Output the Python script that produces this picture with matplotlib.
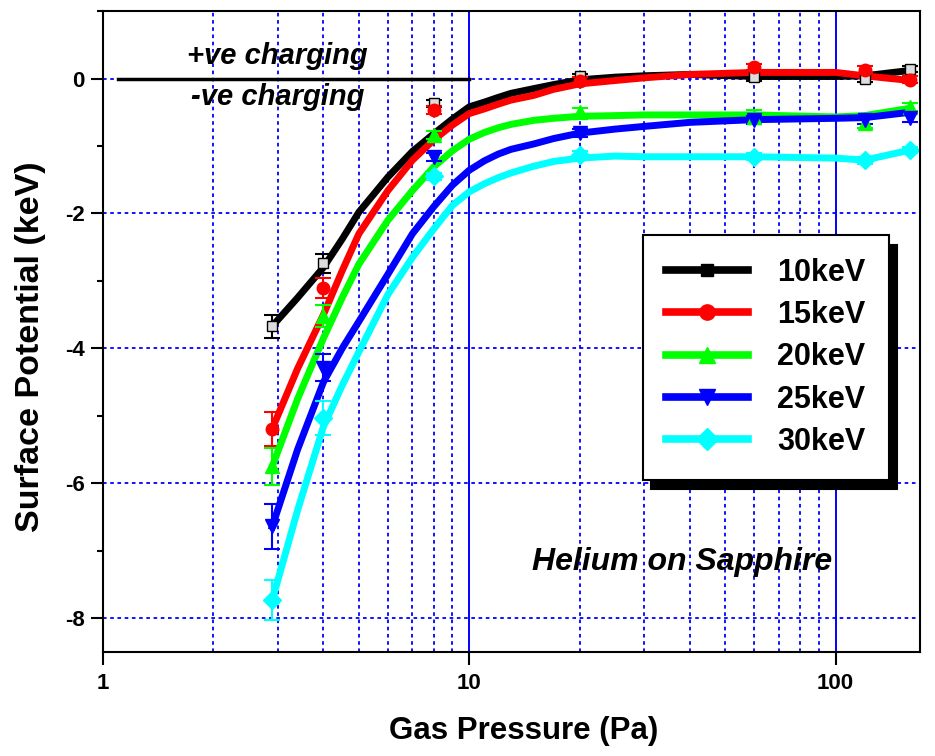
import numpy as np
import matplotlib.pyplot as plt
from matplotlib.lines import Line2D

plt.rcParams['font.family'] = ['Liberation Sans', 'DejaVu Sans']
plt.rcParams['font.weight'] = 'bold'

# measured surface potential (keV) vs gas pressure (Pa)
pressure = [2.9, 4, 8, 20, 60, 120, 160]
v10 = [-3.67, -2.74, -0.37, 0.03, 0.02, 0.0, 0.14]
v15 = [-5.19, -3.10, -0.47, -0.03, 0.17, 0.13, -0.02]
v20 = [-5.75, -3.52, -0.84, -0.49, -0.57, -0.66, -0.42]
v25 = [-6.64, -4.29, -1.16, -0.81, -0.61, -0.61, -0.59]
v30 = [-7.73, -5.03, -1.45, -1.13, -1.16, -1.21, -1.06]
e10 = [0.17, 0.14, 0.05, 0.04, 0.05, 0.05, 0.05]
e15 = [0.25, 0.15, 0.06, 0.05, 0.05, 0.05, 0.05]
e20 = [0.28, 0.17, 0.06, 0.05, 0.10, 0.08, 0.06]
e25 = [0.34, 0.20, 0.06, 0.06, 0.06, 0.06, 0.06]
e30 = [0.30, 0.25, 0.05, 0.05, 0.05, 0.05, 0.05]

# fitted curves
fit_p = [2.9, 3.4, 4, 4.5, 5, 6, 7, 8, 9, 10, 11, 12, 13, 15, 17, 20, 25, 30, 40, 60, 100, 120, 160]
f10 = [-3.67, -3.25, -2.80, -2.38, -1.98, -1.46, -1.08, -0.82, -0.60, -0.42, -0.35, -0.28, -0.22,
       -0.15, -0.09, -0.02, 0.02, 0.04, 0.06, 0.03, 0.03, 0.04, 0.12]
f15 = [-5.19, -4.30, -3.50, -2.85, -2.30, -1.66, -1.21, -0.91, -0.69, -0.52, -0.45, -0.38, -0.32,
       -0.25, -0.16, -0.08, -0.03, 0.01, 0.06, 0.09, 0.09, 0.04, -0.03]
f20 = [-5.75, -4.75, -3.85, -3.25, -2.75, -2.10, -1.66, -1.31, -1.07, -0.90, -0.80, -0.73, -0.68,
       -0.62, -0.59, -0.56, -0.55, -0.54, -0.54, -0.54, -0.57, -0.55, -0.44]
f25 = [-6.64, -5.50, -4.50, -4.00, -3.60, -2.90, -2.30, -1.90, -1.58, -1.36, -1.22, -1.12, -1.05,
       -0.97, -0.89, -0.81, -0.75, -0.71, -0.65, -0.61, -0.59, -0.58, -0.50]
f30 = [-7.73, -6.40, -5.16, -4.55, -4.05, -3.20, -2.65, -2.23, -1.88, -1.68, -1.56, -1.47, -1.40,
       -1.30, -1.23, -1.18, -1.15, -1.16, -1.16, -1.16, -1.18, -1.21, -1.06]

labels = ['10keV', '15keV', '20keV', '25keV', '30keV']
colors = ['black', 'red', '#00ff00', 'blue', 'cyan']
markers = ['s', 'o', '^', 'v', 'D']
msizes = [7, 9, 10, 10, 9]

xticks = [1, 10, 100]
xticklabels = ['1', '10', '100']
yticks = [0, -2, -4, -6, -8]
yticklabels = ['0', '-2', '-4', '-6', '-8']

fig = plt.figure(figsize=(9.35, 7.56), dpi=100)
ax = fig.add_axes([0.110, 0.1376, 0.874, 0.8478])
ax.set_xscale('log')
ax.set_xlim(1, 170)
ax.set_ylim(-8.5, 1.0)

# grid: solid at decades, dotted elsewhere
ax.set_axisbelow(True)
ax.xaxis.grid(True, which='major', color='blue', ls='-', lw=1.4)
ax.xaxis.grid(True, which='minor', color='blue', ls=(0, (2, 2)), lw=1.3)
ax.yaxis.grid(True, which='major', color='blue', ls=(0, (2, 2)), lw=1.3)

fits = [f10, f15, f20, f25, f30]
vals = [v10, v15, v20, v25, v30]
errs = [e10, e15, e20, e25, e30]
for f, v, e, c, m, ms in zip(fits, vals, errs, colors, markers, msizes):
    ax.plot(fit_p, f, color=c, lw=5, solid_joinstyle='round')
    mfc = '#dddddd' if c == 'black' else c
    ax.errorbar(pressure, v, yerr=e, fmt=m, color=c, ms=ms, mfc=mfc, mec=c,
                ecolor=c, elinewidth=1.5, capsize=6, capthick=1.5)

# charging boundary
ax.plot([1.1, 10], [0, 0], color='black', lw=2.5)
ax.text(3.0, 0.21, '+ve charging', ha='center', va='baseline', fontsize=21,
        style='italic', weight='bold')
ax.text(3.0, -0.39, '-ve charging', ha='center', va='baseline', fontsize=21,
        style='italic', weight='bold')
ax.text(38, -7.28, 'Helium on Sapphire', ha='center', va='baseline', fontsize=23,
        style='italic', weight='bold')

ax.set_xticks(xticks, labels=xticklabels)
ax.xaxis.set_minor_locator(plt.LogLocator(base=10, subs=np.arange(2, 10)))
ax.xaxis.set_minor_formatter(plt.NullFormatter())
ax.set_yticks(yticks, labels=yticklabels)
ax.yaxis.set_minor_locator(plt.MultipleLocator(1))
ax.tick_params(axis='both', which='major', direction='out', length=9, width=1.5,
               labelsize=16)
ax.tick_params(axis='x', which='major', pad=6)
ax.tick_params(axis='y', which='major', pad=4)
ax.tick_params(axis='x', which='minor', length=0)
ax.tick_params(axis='y', which='minor', direction='out', length=4.5, width=1.5)
for s in ax.spines.values():
    s.set_linewidth(1.5)

ax.set_xlabel('Gas Pressure (Pa)', fontsize=22.5, weight='bold')
ax.set_ylabel('Surface Potential (keV)', fontsize=24.5, weight='bold')
ax.xaxis.set_label_coords(0.515, -0.100)
ax.yaxis.set_label_coords(-0.070, 0.476)

handles = []
for c, m, ms in zip(colors, markers, msizes):
    handles.append(Line2D([], [], color=c, lw=5.5, marker=m, ms=ms + 2, mfc=c, mec=c))
leg = ax.legend(handles, labels, loc='upper left', bbox_to_anchor=(0.661, 0.6505),
                borderaxespad=0, fontsize=22, handlelength=2.7, handletextpad=0.95,
                labelspacing=0.40, borderpad=0.75, fancybox=False, framealpha=1,
                edgecolor='black', shadow={'ox': 6, 'oy': -7, 'color': 'black', 'alpha': 1})
leg.get_frame().set_linewidth(1.5)

plt.savefig('out.png', dpi=100)
